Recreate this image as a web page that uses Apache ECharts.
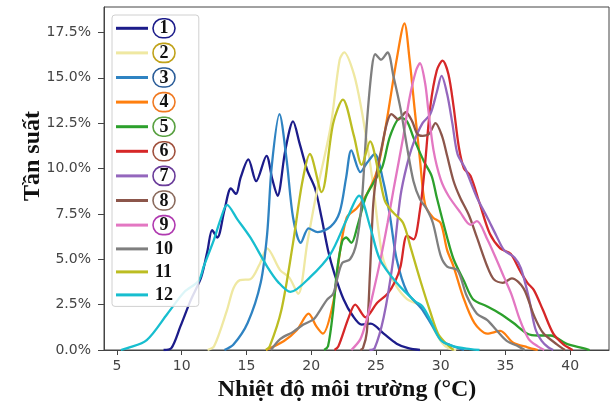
<!DOCTYPE html>
<html>
<head>
<meta charset="utf-8">
<script src="https://cdn.jsdelivr.net/npm/echarts@6/dist/echarts.min.js"></script>
<style>html,body{margin:0;padding:0;background:#fff}#c{width:616px;height:406px}</style>
</head>
<body>
<div id="c"></div>
<script>
// ---- data (temperature °C, frequency %) ----
const seriesNames = ['1','2','3','4','5','6','7','8','9','10','11','12'];
const xTicks = [5,10,15,20,25,30,35,40];
const yTicks = [0,2.5,5,7.5,10,12.5,15,17.5];

const t1 = [8.6,9.2,9.9,10.7,11.5,12.0,12.35,12.75,13.3,13.8,14.2,14.55,15.15,15.75,16.55,17.0,17.4,18.0,18.6,19.1,19.7,20.3,20.8,21.3,21.8,22.5,23.2,23.9,24.6,25.6,26.6,27.5,28.4];
const f1 = [0,0.1,1.3,2.75,4.0,5.5,6.6,6.2,7.7,8.9,8.6,9.5,10.5,9.3,10.7,9.4,8.5,11.0,12.6,11.4,9.9,8.9,7.3,5.5,4.2,2.8,1.9,1.4,1.45,0.9,0.35,0.1,0];

const t2 = [12.0,12.5,13.5,14.0,14.5,15.3,16.0,16.6,17.6,18.3,19.0,19.7,20.4,21.5,22.2,22.55,23.3,23.9,24.4,24.8,25.2,25.6,26.5,27.4,28.3,28.9,29.5,30.1,30.6,31.2];
const f2 = [0,0.2,2.2,3.4,3.85,3.9,4.7,5.6,4.4,4.0,3.1,5.9,8.6,12.3,16.0,16.4,15.2,13.2,11.0,9.0,6.6,4.9,3.6,2.8,2.5,2.0,1.1,0.4,0.1,0];

const t3 = [13.3,14.0,15.1,16.1,16.6,16.95,17.55,18.1,18.6,19.2,19.8,20.5,21.5,22.2,22.7,23.1,23.8,24.3,24.9,25.6,26.1,26.6,27.4,28.5,29.3,30.1,31.2,31.8];
const f3 = [0,0.3,1.5,3.7,6.4,10.1,13.0,10.5,7.3,5.9,6.7,6.5,6.8,7.6,9.5,11.0,9.8,10.3,10.8,9.2,7.3,5.0,3.2,2.3,1.4,0.5,0.15,0];

const t4 = [16.5,17.9,18.9,19.8,20.4,20.9,21.7,22.2,22.75,23.5,24.3,25.1,25.85,26.6,27.2,27.6,28.0,28.4,28.8,29.4,30.0,30.5,31.0,31.7,32.6,33.6,34.6,35.6,36.7,37.5];
const f4 = [0,0.5,1.1,2.0,1.3,0.9,2.6,5.3,7.3,7.8,8.6,9.9,12.7,16.0,18.0,16.0,13.2,10.5,8.0,7.3,7.0,5.5,4.6,3.0,1.5,0.9,1.05,0.4,0.15,0];

const t5 = [21.0,21.3,21.7,22.0,22.4,22.7,23.1,23.6,24.2,24.8,25.5,26.1,26.9,27.4,27.9,28.7,29.3,29.7,30.5,31.0,31.8,32.5,33.6,34.6,35.6,36.7,37.5,38.5,39.7,41.0,41.5];
const f5 = [0,0.2,2.2,4.4,6.0,6.2,5.9,6.9,8.4,9.2,10.1,11.8,12.8,12.6,11.7,10.4,9.6,8.4,6.2,5.0,3.8,2.8,2.4,2.0,1.5,0.9,0.8,0.8,0.35,0.1,0];

const t6 = [21.8,22.1,22.9,23.4,24.2,25.1,25.9,26.5,26.9,27.4,27.9,28.4,28.75,29.2,29.7,30.15,30.6,31.0,31.4,31.8,32.3,33.0,33.8,34.6,35.4,36.1,36.7,37.2,37.9,38.7,39.5,40.2];
const f6 = [0,0.2,1.8,2.5,1.8,2.6,3.1,3.8,4.6,6.3,6.1,7.7,9.9,13.4,15.4,15.95,15.2,13.4,11.2,10.0,9.6,8.1,6.4,5.6,5.3,4.4,3.7,3.3,2.2,0.9,0.3,0];

const t7 = [24.5,24.9,25.6,26.3,26.9,27.4,27.9,28.6,29.2,29.7,30.07,30.5,30.9,31.3,31.9,32.8,33.6,34.3,34.9,35.7,36.2,36.8,37.3,37.8,38.3,38.7];
const f7 = [0,0.1,1.8,4.8,8.5,10.2,11.4,12.5,13.0,14.2,15.1,14.1,12.5,10.8,10.0,8.4,7.3,6.3,5.5,5.1,4.5,2.9,1.2,0.5,0.15,0];

const t8 = [23.8,24.0,24.3,24.55,24.8,25.1,25.4,25.85,26.2,26.75,27.3,27.8,28.2,28.6,29.1,29.6,30.1,30.5,31.0,31.5,32.2,32.8,33.6,34.1,34.8,35.5,36.4,37.2,37.9,39.0,39.6];
const f8 = [0,0.1,1.0,4.4,8.1,9.9,11.0,12.5,13.0,12.7,13.1,12.6,11.9,11.8,11.9,12.5,11.8,10.7,9.3,8.4,7.4,6.2,4.6,3.9,3.7,3.95,3.4,1.9,0.95,0.3,0];

const t9 = [23.1,23.8,24.3,24.8,25.3,25.9,26.4,27.1,27.6,28.1,28.4,28.8,29.05,29.45,30.0,30.6,31.5,32.3,32.8,33.6,34.3,34.9,35.5,36.1,36.8,37.5,38.0];
const f9 = [0,0.6,1.7,3.2,4.8,7.0,9.0,11.7,13.9,15.4,15.8,14.7,13.2,11.0,9.4,8.5,7.6,6.9,7.1,6.1,5.0,4.0,3.0,1.7,0.6,0.2,0];

const t10 = [16.9,17.6,18.6,19.4,20.2,20.7,21.2,21.7,22.0,22.4,23.0,23.5,23.9,24.3,24.7,24.95,25.4,25.9,26.35,26.9,27.4,27.9,28.4,28.9,29.4,30.0,30.5,31.3,32.0,32.8,33.6,34.3,35.1,36.0,36.5];
const f10 = [0,0.6,1.0,1.4,1.7,2.2,2.75,3.1,3.9,4.8,5.0,5.9,8.1,12.5,15.6,16.3,16.0,16.4,15.1,13.3,11.2,9.3,8.3,7.8,7.0,5.2,4.6,4.4,3.0,2.0,1.65,1.1,0.5,0.2,0];

const t11 = [16.5,16.8,17.7,18.6,19.3,19.9,20.8,21.7,22.45,23.3,23.9,24.55,25.2,25.7,26.3,27.1,27.7,28.4,29.2,29.8,30.5,31.0];
const f11 = [0,0.2,2.2,5.9,9.2,10.8,8.7,12.5,13.8,11.8,10.2,11.5,9.8,8.2,7.6,7.0,5.6,3.9,2.1,0.9,0.3,0];

const t12 = [5.3,5.8,7.3,8.9,10.2,11.3,11.7,12.5,13.0,13.5,14.3,15.3,16.6,17.5,18.4,19.9,21.5,22.75,23.7,24.55,25.3,26.6,28.0,28.6,29.2,30.0,31.0,32.3,33.0];
const f12 = [0,0.1,0.55,2.0,3.2,3.8,4.6,6.1,7.2,8.0,7.2,6.2,4.6,3.7,3.2,4.0,5.3,7.2,8.5,6.8,5.0,3.7,2.7,2.4,1.65,0.55,0.2,0.05,0];

const temps = [t1,t2,t3,t4,t5,t6,t7,t8,t9,t10,t11,t12];
const freqs = [f1,f2,f3,f4,f5,f6,f7,f8,f9,f10,f11,f12];

// ---- styles ----
const lineColors = ['#1c1c8a','#efe8a2','#2f83c2','#ff7f0e','#2ca02c','#d62728','#9467bd','#8c564b','#e377c2','#7f7f7f','#bcbd22','#17becf'];
const ringColors = ['#1c1c8a','#c0a21a','#2a5c98','#f07a22','#58a040','#a0503c','#6a3c9a','#8a6a5c','#b03ab0'];

const serif = '"Liberation Serif", "Times New Roman", serif';
const rich = {};
ringColors.forEach((c, i) => {
  rich['c' + (i + 1)] = {
    fontFamily: serif, fontWeight: 'bold', fontSize: 18, color: '#111',
    width: 18, height: 16, lineHeight: 16, align: 'center',
    padding: [2, 2, 1, 2], borderColor: c, borderWidth: 1.6, borderRadius: 10
  };
});
rich.n = { fontFamily: serif, fontWeight: 'bold', fontSize: 18, color: '#111', height: 16, lineHeight: 16, padding: [2, 2, 1, 2] };

const chart = echarts.init(document.getElementById('c'), null, { renderer: 'canvas' });
const series = seriesNames.map((name, i) => ({
  name: name,
  type: 'line',
  data: temps[i].map((t, j) => [t, freqs[i][j]]),
  symbol: 'none',
  smooth: 0.3,
  lineStyle: { width: 2.3, color: lineColors[i] },
  itemStyle: { color: lineColors[i] },
  z: 2
}));

const axisFont = { fontFamily: '"DejaVu Sans", sans-serif', fontSize: 14, color: '#444' };

chart.setOption({
  animation: false,
  backgroundColor: '#fff',
  grid: { left: 104, right: 7, top: 7, bottom: 56, show: true, borderColor: '#444', borderWidth: 1 },
  xAxis: {
    type: 'value', min: 4, max: 43,
    axisLine: { show: true, lineStyle: { color: '#444' } },
    axisTick: { show: true, length: 5, lineStyle: { color: '#444' }, customValues: xTicks },
    axisLabel: Object.assign({ margin: 9, customValues: xTicks }, axisFont),
    splitLine: { show: false }
  },
  yAxis: {
    type: 'value', min: 0, max: 18.9,
    axisLine: { show: true, lineStyle: { color: '#444' } },
    axisTick: { show: true, length: 6, lineStyle: { color: '#444' }, customValues: yTicks },
    axisLabel: Object.assign({ margin: 13, customValues: yTicks, formatter: v => v.toFixed(1) + '%' }, axisFont),
    splitLine: { show: false }
  },
  legend: {
    orient: 'vertical', left: 112, top: 15,
    padding: [3, 23, 2, 4], itemGap: 4, itemWidth: 32, itemHeight: 3,
    icon: 'rect',
    backgroundColor: 'rgba(255,255,255,0.85)', borderColor: '#d0d0d0', borderWidth: 1, borderRadius: 3,
    selectedMode: false, z: 10,
    data: seriesNames,
    formatter: name => (Number(name) <= 9 ? '{c' + name + '|' + name + '}' : '{n|' + name + '}'),
    textStyle: { rich: rich, fontFamily: serif, fontWeight: 'bold', fontSize: 18, color: '#111' }
  },
  graphic: [
    { type: 'text', x: 33, y: 156, rotation: Math.PI / 2,
      style: { text: 'Tần suất', font: 'bold 24px "Liberation Serif"', fill: '#111', textAlign: 'center', textVerticalAlign: 'middle' } },
    { type: 'text', x: 347, y: 390,
      style: { text: 'Nhiệt độ môi trường (°C)', font: 'bold 24px "Liberation Serif"', fill: '#111', textAlign: 'center', textVerticalAlign: 'middle' } }
  ],
  series: series
});
</script>
</body>
</html>
